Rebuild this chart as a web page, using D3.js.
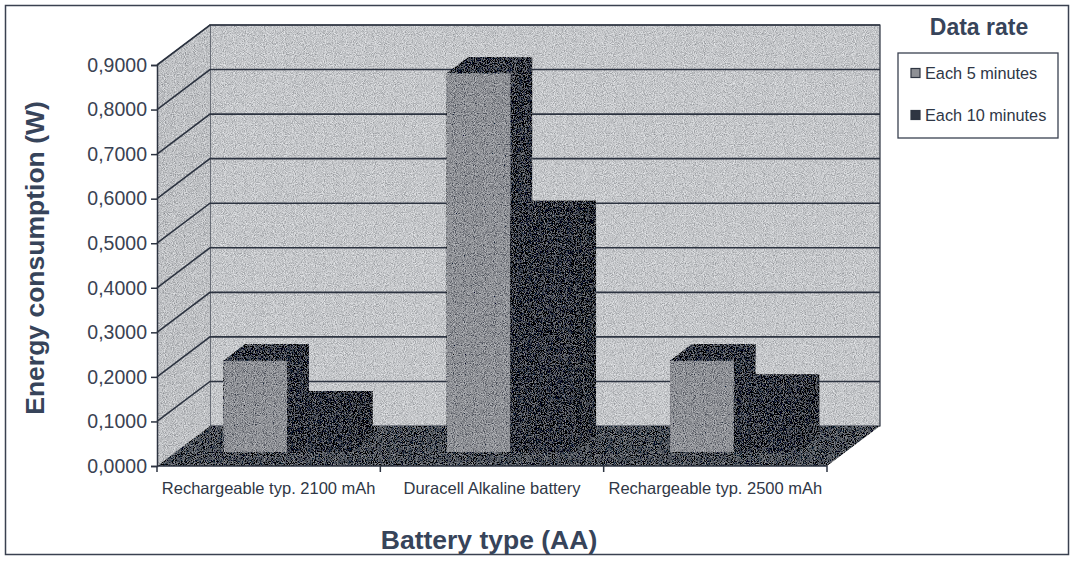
<!DOCTYPE html>
<html>
<head>
<meta charset="utf-8">
<script src="https://cdn.jsdelivr.net/npm/d3@7"></script>
<style>
  html, body { margin: 0; padding: 0; background: #fff; }
  svg { display: block; font-family: Arial, "Liberation Sans", sans-serif; }
</style>
</head>
<body>
<svg id="chart" width="1073" height="566"></svg>
<script>
// ---- data ----
const categories = ["Rechargeable typ. 2100 mAh", "Duracell Alkaline battery", "Rechargeable typ. 2500 mAh"];
const seriesNames = ["Each 5 minutes", "Each 10 minutes"];
const each5min = [0.205, 0.850, 0.205];
const each10min = [0.100, 0.527, 0.137];
const yTicks = [0, 0.1, 0.2, 0.3, 0.4, 0.5, 0.6, 0.7, 0.8, 0.9];
const yTitle = "Energy consumption (W)";
const xTitle = "Battery type (AA)";
const legendTitle = "Data rate";

const seriesValues = [each5min, each10min];

// ---- layout ----
const svg = d3.select("#chart");
const lineColor = "#2c3340";
const wallFill = "#c4c6c9";
const sideWallFill = "#bec0c3";
const floorFill = "#4a4f57";
const frontFills = ["#8e9095", "#2f3542"];
const topFills = ["#353b47", "#2f3542"];
const sideFills = ["#323844", "#2c323d"];

const depth = {x: 53, y: -40};
const barT0 = 0.35, barT1 = 0.76;

const y = d3.scaleLinear().domain([0, 0.9]).range([466, 65]);
const x0 = d3.scaleBand().domain(categories).range([157, 827]).paddingInner(0).paddingOuter(0);
const x1 = d3.scaleBand().domain(seriesNames).range([0, x0.bandwidth()]).paddingInner(0).paddingOuter(0.75);

const P = (x, yy, t) => [x + depth.x * t, yy + depth.y * t];
const poly = pts => pts.map(p => p.join(",")).join(" ");

// noise filter (scan grain)
const defs = svg.append("defs");
const f = defs.append("filter").attr("id", "noise").attr("x", 0).attr("y", 0).attr("width", "100%").attr("height", "100%");
f.append("feTurbulence").attr("type", "fractalNoise").attr("baseFrequency", 1.1).attr("numOctaves", 1).attr("seed", 4).attr("result", "t");
f.append("feColorMatrix").attr("in", "t").attr("type", "matrix")
  .attr("values", "1 0 0 0 0  1 0 0 0 0  1 0 0 0 0  0 0 0 0 1").attr("result", "g");
f.append("feComposite").attr("in", "SourceGraphic").attr("in2", "g").attr("operator", "arithmetic")
  .attr("k1", 0).attr("k2", 1).attr("k3", 0.9).attr("k4", -0.45).attr("result", "n");
f.append("feComposite").attr("in", "n").attr("in2", "SourceGraphic").attr("operator", "in");

// outer border
svg.append("rect").attr("x", 5.5).attr("y", 5.5).attr("width", 1063).attr("height", 549)
  .attr("fill", "none").attr("stroke", "#3a4150").attr("stroke-width", 1.5);

const x0min = x0.range()[0], x0max = x0.range()[1];
const ymin = y(0), ymax = y(0.9);

// back wall
svg.append("polygon")
  .attr("points", poly([P(x0min, ymax, 1), P(x0max, ymax, 1), P(x0max, ymin, 1), P(x0min, ymin, 1)]))
  .attr("fill", wallFill).attr("filter", "url(#noise)");
svg.append("polygon")
  .attr("points", poly([P(x0min, ymax, 1), P(x0max, ymax, 1), P(x0max, ymin, 1), P(x0min, ymin, 1)]))
  .attr("fill", "none").attr("stroke", lineColor).attr("stroke-width", 1.2);
// left side wall
svg.append("polygon")
  .attr("points", poly([P(x0min, ymin, 0), P(x0min, ymax, 0), P(x0min, ymax, 1), P(x0min, ymin, 1)]))
  .attr("fill", sideWallFill).attr("filter", "url(#noise)");
svg.append("polyline")
  .attr("points", poly([P(x0min, ymax, 0), P(x0min, ymax, 1)]))
  .attr("fill", "none").attr("stroke", lineColor).attr("stroke-width", 1);

// gridlines
const grid = svg.append("g").attr("stroke", lineColor).attr("stroke-width", 1.6).attr("fill", "none");
yTicks.filter(v => v > 0).forEach(v => {
  const a = P(x0min, y(v), 0), b = P(x0min, y(v), 1), c = P(x0max, y(v), 1);
  grid.append("polyline").attr("points", poly([a, b, c]));
});

// floor
svg.append("polygon")
  .attr("points", poly([P(x0min, ymin, 0), P(x0min, ymin, 1), P(x0max, ymin, 1), P(x0max, ymin, 0)]))
  .attr("fill", floorFill).attr("filter", "url(#noise)");

// bars
const bars = svg.append("g");
categories.forEach((cat, ci) => {
  seriesNames.forEach((s, si) => {
    const v = seriesValues[si][ci];
    const xl = x0(cat) + x1(s), xr = xl + x1.bandwidth();
    const yt = y(v), yb = y(0);
    const outline = [P(xl, yt, barT0), P(xl, yt, barT1), P(xr, yt, barT1), P(xr, yb, barT1), P(xr, yb, barT0), P(xl, yb, barT0)];
    const g = bars.append("g").attr("filter", "url(#noise)");
    // silhouette (side + top) in dark colour
    g.append("polygon").attr("points", poly(outline)).attr("fill", sideFills[si]);
    // top face
    g.append("polygon").attr("points", poly([P(xl, yt, barT0), P(xl, yt, barT1), P(xr, yt, barT1), P(xr, yt, barT0)]))
      .attr("fill", topFills[si]);
    // front face
    g.append("polygon").attr("points", poly([P(xl, yt, barT0), P(xr, yt, barT0), P(xr, yb, barT0), P(xl, yb, barT0)]))
      .attr("fill", frontFills[si]);
  });
});

// y axis
const yAxis = d3.axisLeft(y).tickValues(yTicks).tickSize(6).tickPadding(4)
  .tickFormat(d => d3.format(".4f")(d).replace(".", ","));
const ya = svg.append("g").attr("transform", `translate(${x0min},0)`).call(yAxis);
ya.select(".domain").attr("stroke", lineColor).attr("stroke-width", 1.5);
ya.selectAll(".tick line").attr("stroke", lineColor).attr("stroke-width", 1.5);
ya.selectAll(".tick text").attr("fill", "#3a4252").attr("font-size", 19.5).attr("font-family", "Arial, 'Liberation Sans', sans-serif");

// x axis
const xa = svg.append("g");
xa.append("line").attr("x1", x0min).attr("x2", x0max).attr("y1", ymin).attr("y2", ymin)
  .attr("stroke", lineColor).attr("stroke-width", 1.5);
const bounds = categories.map(c => x0(c)).concat([x0max]);
xa.selectAll("line.tk").data(bounds).enter().append("line").attr("class", "tk")
  .attr("x1", d => d).attr("x2", d => d).attr("y1", ymin).attr("y2", ymin + 6)
  .attr("stroke", lineColor).attr("stroke-width", 1.5);
xa.selectAll("text").data(categories).enter().append("text")
  .attr("x", d => x0(d) + x0.bandwidth() / 2).attr("y", 494)
  .attr("text-anchor", "middle").attr("fill", "#2f3746").attr("font-size", 16.5)
  .text(d => d);

// axis titles
svg.append("text").attr("transform", "translate(44,258) rotate(-90)")
  .attr("text-anchor", "middle").attr("font-weight", "bold").attr("font-size", 26.5)
  .attr("fill", "#37445a").text(yTitle);
svg.append("text").attr("x", 489).attr("y", 549)
  .attr("text-anchor", "middle").attr("font-weight", "bold").attr("font-size", 26.5)
  .attr("fill", "#37445a").text(xTitle);

// legend
svg.append("text").attr("x", 979).attr("y", 35).attr("text-anchor", "middle")
  .attr("font-weight", "bold").attr("font-size", 23).attr("fill", "#37445a").text(legendTitle);
svg.append("rect").attr("x", 898).attr("y", 53).attr("width", 160).attr("height", 85)
  .attr("fill", "#fff").attr("stroke", "#3a4150").attr("stroke-width", 1.3);
const leg = svg.append("g");
seriesNames.forEach((s, i) => {
  const yy = 73 + i * 42;
  leg.append("rect").attr("x", 911).attr("y", yy - 4.5).attr("width", 9).attr("height", 9)
    .attr("fill", frontFills[i]).attr("stroke", "#2f3542").attr("stroke-width", 1.2);
  leg.append("text").attr("x", 925).attr("y", yy + 6).attr("font-size", 16.3)
    .attr("fill", "#2f3746").text(s);
});
</script>
</body>
</html>
